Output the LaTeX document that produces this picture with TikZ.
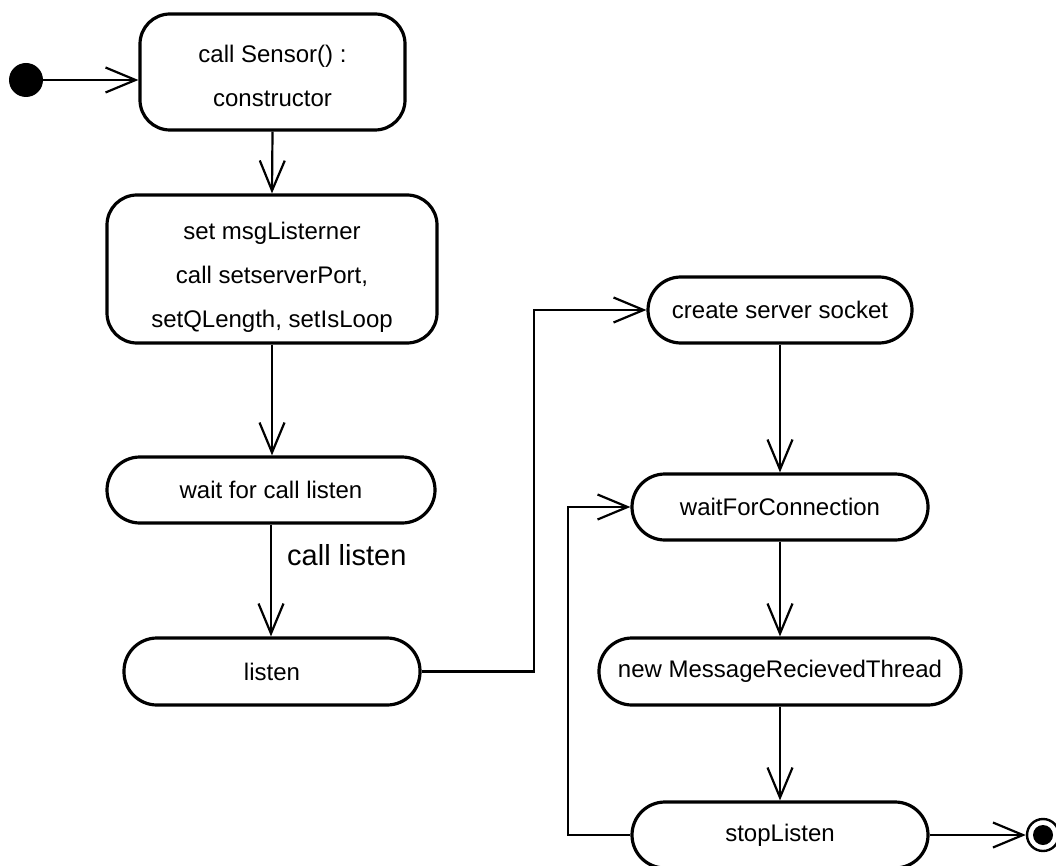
\documentclass[tikz,border=0pt]{standalone}
\usepackage{fontspec}
\setmainfont{Liberation Sans}
\usetikzlibrary{arrows.meta}
\begin{document}
\begin{tikzpicture}[x=1pt,y=-1pt,
  state/.style={draw,line width=3.2pt,rectangle,inner sep=0pt,align=center,
    font=\fontsize{24}{44}\selectfont},
  activity/.style={state,rounded corners=30pt},
  pill/.style={state,rounded corners=33pt},
  caption/.style={inner sep=0pt,align=center,font=\fontsize{24}{44}\selectfont},
  flow/.style={line width=2.2pt,-{Straight Barb[length=30pt,width=25pt,line width=2.2pt]}},
  link/.style={line width=2.2pt}]
\useasboundingbox (0,0) rectangle (1056,866);

% initial and final states
\node[circle,fill=black,minimum size=34pt,inner sep=0pt] (start) at (26,80) {};
\node[circle,draw,line width=2.4pt,minimum size=32pt,inner sep=0pt] (end) at (1043,835) {};
\fill (end.center) circle (10);

% actions
\node[activity,minimum width=265pt,minimum height=116pt] (sensor) at (272.5,72) {};
\node[caption] (sensortext) at (272.5,76) {call Sensor() :\\constructor};
\node[activity,minimum width=330pt,minimum height=148pt] (setup) at (272,269) {};
\node[caption] (setuptext) at (272,277)
  {set msgListerner\\call setserverPort,\\setQLength, setIsLoop};
\node[pill,minimum width=328pt,minimum height=66pt] (waitcall) at (271,490)
  {wait for call listen};
\node[pill,minimum width=296pt,minimum height=67pt] (listen) at (272,671.5)
  {listen};
\node[pill,minimum width=264pt,minimum height=66pt] (socket) at (780,310)
  {create server socket};
\node[pill,minimum width=296pt,minimum height=66pt] (waitconn) at (780,507)
  {waitForConnection};
\node[pill,minimum width=362pt,minimum height=67pt] (thread) at (780,671.5)
  {new MessageRecievedThread};
\node[pill,minimum width=296pt,minimum height=66pt] (stop) at (780,835)
  {stopListen};

% guard on the listen transition
\node[anchor=west,inner sep=0pt,font=\fontsize{29}{34}\selectfont] (guard) at (287,555)
  {call listen};

% routing points for the elbow connectors
\coordinate (busA) at (534,0);
\coordinate (busB) at (568,0);

% transitions
\draw[flow] (start) -- (start -| sensor.west);
\draw[flow] (sensor.south) -- (setup.north);
\draw[flow] (setup.south) -- (setup.south |- waitcall.north);
\draw[flow] (waitcall.south) -- (waitcall.south |- listen.north);
\draw[flow] (listen.east) -| (busA |- socket.west) -- (socket.west);
\draw[flow] (socket.south) -- (waitconn.north);
\draw[flow] (waitconn.south) -- (thread.north);
\draw[flow] (thread.south) -- (stop.north);
\draw[flow] (stop.west) -| (busB |- waitconn.west) -- (waitconn.west);
\draw[flow] (stop.east) -- (end.west);
\end{tikzpicture}
\end{document}
